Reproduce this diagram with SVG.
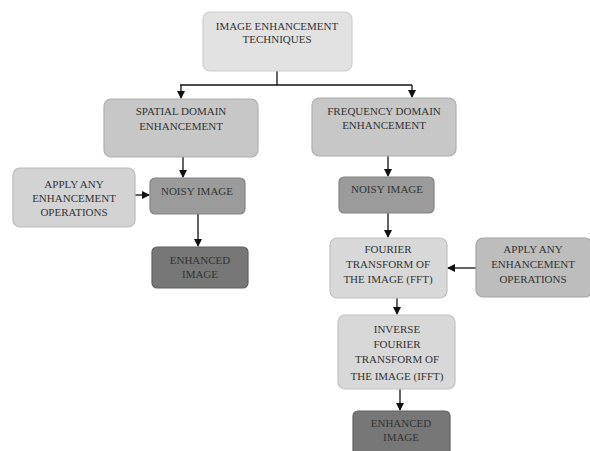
<svg xmlns="http://www.w3.org/2000/svg" width="590" height="451" viewBox="0 0 590 451">
<defs>
<marker id="ah" markerWidth="8" markerHeight="8" refX="7" refY="4" orient="auto" markerUnits="userSpaceOnUse">
<path d="M0,0 L8,4 L0,8 Z" fill="#111"/>
</marker>
<style>
.box{stroke-width:1.2;}
.l1{fill:#e2e2e2;stroke:#cdcdcd;}
.l2{fill:#c7c7c7;stroke:#aeaeae;}
.l3{fill:#d3d3d3;stroke:#bababa;}
.l4{fill:#9b9b9b;stroke:#848484;}
.l5{fill:#777777;stroke:#616161;}
.l6{fill:#d8d8d8;stroke:#c0c0c0;}
.l7{fill:#bdbdbd;stroke:#a5a5a5;}
text{font-family:"Liberation Serif","DejaVu Serif",serif;font-size:11px;fill:#333;text-anchor:middle;}
.c{stroke:#111;stroke-width:1.3;fill:none;}
</style>
</defs>
<rect width="590" height="451" fill="#fff"/>
<g id="connectors">
<path class="c" d="M277,71 V85"/>
<path class="c" d="M180,85 H412"/>
<path class="c" d="M181,85 V98" marker-end="url(#ah)"/>
<path class="c" d="M412,85 V97" marker-end="url(#ah)"/>
<path class="c" d="M183,157 V177" marker-end="url(#ah)"/>
<path class="c" d="M135,195 H149" marker-end="url(#ah)"/>
<path class="c" d="M198,214 V246" marker-end="url(#ah)"/>
<path class="c" d="M388,156 V176" marker-end="url(#ah)"/>
<path class="c" d="M388,213 V237" marker-end="url(#ah)"/>
<path class="c" d="M476,268 H448" marker-end="url(#ah)"/>
<path class="c" d="M397,298 V314" marker-end="url(#ah)"/>
<path class="c" d="M400,389 V410" marker-end="url(#ah)"/>
</g>
<g id="top">
<rect class="box l1" x="203" y="12" width="149" height="59" rx="7"/>
<text x="277" y="30">IMAGE ENHANCEMENT</text>
<text x="277" y="43">TECHNIQUES</text>
</g>
<g id="spatial">
<rect class="box l2" x="104" y="99" width="154" height="58" rx="7"/>
<text x="181" y="115">SPATIAL DOMAIN</text>
<text x="181" y="130">ENHANCEMENT</text>
</g>
<g id="frequency">
<rect class="box l2" x="312" y="98" width="144" height="58" rx="7"/>
<text x="384" y="115">FREQUENCY DOMAIN</text>
<text x="384" y="129">ENHANCEMENT</text>
</g>
<g id="apply-left">
<rect class="box l3" x="13" y="168" width="122" height="59" rx="7"/>
<text x="74" y="188">APPLY ANY</text>
<text x="74" y="202">ENHANCEMENT</text>
<text x="74" y="216">OPERATIONS</text>
</g>
<g id="noisy-left">
<rect class="box l4" x="150" y="178" width="95" height="36" rx="5"/>
<text x="197" y="195">NOISY IMAGE</text>
</g>
<g id="enhanced-left">
<rect class="box l5" x="152" y="247" width="96" height="41" rx="5"/>
<text x="200" y="264">ENHANCED</text>
<text x="200" y="278">IMAGE</text>
</g>
<g id="noisy-right">
<rect class="box l4" x="339" y="177" width="95" height="36" rx="5"/>
<text x="387" y="193">NOISY IMAGE</text>
</g>
<g id="fft">
<rect class="box l6" x="330" y="238" width="117" height="60" rx="7"/>
<text x="388" y="253">FOURIER</text>
<text x="388" y="268">TRANSFORM OF</text>
<text x="388" y="283">THE IMAGE (FFT)</text>
</g>
<g id="apply-right">
<rect class="box l7" x="476" y="238" width="116" height="59" rx="7"/>
<text x="533" y="253">APPLY ANY</text>
<text x="533" y="268">ENHANCEMENT</text>
<text x="533" y="283">OPERATIONS</text>
</g>
<g id="ifft">
<rect class="box l6" x="338" y="315" width="117" height="74" rx="7"/>
<text x="397" y="333">INVERSE</text>
<text x="397" y="348">FOURIER</text>
<text x="397" y="363">TRANSFORM OF</text>
<text x="397" y="380">THE IMAGE (IFFT)</text>
</g>
<g id="enhanced-right">
<rect class="box l5" x="353" y="411" width="97" height="46" rx="5"/>
<text x="401" y="427">ENHANCED</text>
<text x="401" y="441">IMAGE</text>
</g>
</svg>
